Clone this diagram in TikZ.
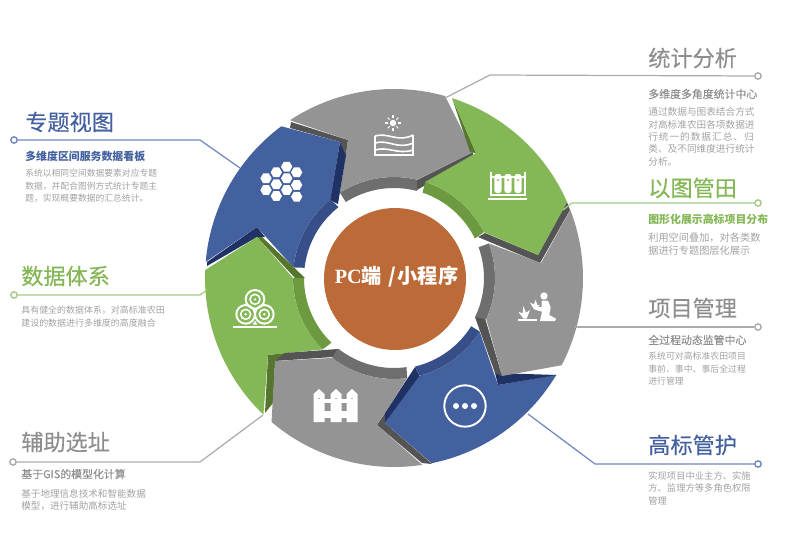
\documentclass[tikz,border=0pt]{standalone}
\usepackage{fontspec}
\setmainfont{Noto Sans CJK SC}
\newfontfamily\pcfont{Liberation Serif}
\usetikzlibrary{positioning}

\definecolor{blueface}{HTML}{43609F}
\definecolor{blueband}{HTML}{374F88}
\definecolor{blueedge}{HTML}{1F3263}
\definecolor{greenface}{HTML}{84B755}
\definecolor{greenband}{HTML}{6D9A40}
\definecolor{greenedge}{HTML}{56752F}
\definecolor{grayface}{HTML}{949494}
\definecolor{grayband}{HTML}{6E6E6E}
\definecolor{grayedge}{HTML}{545454}
\definecolor{hubcolor}{HTML}{BB6A38}
\definecolor{titlegray}{HTML}{8E8E8E}
\definecolor{bodygray}{HTML}{A2A2A2}
\definecolor{lineblue}{HTML}{6F87BC}
\definecolor{linegreen}{HTML}{A5CB84}
\definecolor{linegray}{HTML}{ABABAB}

\tikzset{
  dotend/.style={circle, draw=#1, fill=white, line width=0.8pt, inner sep=0pt, minimum size=3.6pt},
  leader/.style={draw=#1, line width=0.7pt},
  titlelabel/.style={anchor=west, inner sep=0pt, text=#1, font=\fontsize{12.6}{14}\selectfont\addfontfeature{FakeBold=0.35}},
  sublabel/.style={anchor=west, inner sep=0pt, text=#1, font=\fontsize{6.2}{8}\selectfont\bfseries},
  graysub/.style={anchor=west, inner sep=0pt, text=titlegray, font=\fontsize{6.2}{8}\selectfont\addfontfeature{FakeBold=0.3}},
  bodylabel/.style={anchor=north west, inner sep=0pt, align=left, text=bodygray, font=\fontsize{#1}{7.1}\selectfont},
  iconline/.style={draw=white, line width=0.9pt}
}

\begin{document}
\begin{tikzpicture}[x=0.02cm, y=-0.02cm]
  \useasboundingbox (0, 0) rectangle (785, 541);

  % wheel, angles run clockwise from east
  \begin{scope}[shift={(394, 278)}]
    % gray, top
    \fill [grayedge] (-103, -156) -- (-46, -138) -- (-48, -123) -- (-54, -136) -- (-104, -150) -- cycle;
    \fill [grayedge] (79, -126) -- (79, -121) -- (23, -88) -- (23, -98) -- cycle;
    \fill [grayband] (237.6:101) arc (237.6:283.2:101) -- (284.7:90) arc (284.7:237.6:90) -- cycle;
    \fill [grayface] (236.6:189) arc (236.6:285.7:189) -- (79, -126) -- (283.2:101) arc (283.2:237.6:101) -- (-46, -138) -- cycle;

    % blue, upper left
    \fill [blueedge] (-54, -136) -- (-48, -123) -- (-56, -74) -- (-64, -78) -- cycle;
    \fill [blueedge] (-187, -16) -- (-137, -51) -- (-129, -41) -- (-137, -41) -- (-187, -12) -- cycle;
    \fill [blueband] (231:101) arc (231:186:101) -- (186.5:90) arc (186.5:232:90) -- cycle;
    \fill [blueface] (184.9:189) arc (184.9:233.4:189) -- (-54, -136) -- (231:101) arc (231:186:101) -- (-137, -51) -- cycle;

    % green, left
    \fill [greenedge] (-137, -41) -- (-132, -41) -- (-89, 0) -- (-99, 0) -- cycle;
    \fill [greenedge] (-126, 77) -- (-109, 75) -- (-119, 85) -- (-121, 125) -- (-129, 135) -- cycle;
    \fill [greenband] (135:101) arc (135:180:101) -- (180:90) arc (180:134:90) -- cycle;
    \fill [greenface] (182.4:189) arc (182.4:133.7:189) -- (-126, 77) -- (135:101) arc (135:180:101) -- (-137, -41) -- cycle;

    % gray, bottom
    \fill [grayedge] (-119, 83) -- (-109, 75) -- (-56, 71) -- (-61, 79) -- cycle;
    \fill [grayedge] (-9, 135) -- (-17, 147) -- (28, 185) -- (38, 186) -- (-9, 145) -- cycle;
    \fill [grayband] (127.7:101) arc (127.7:82.5:101) -- (82:90) arc (82:128.3:90) -- cycle;
    \fill [grayface] (81.4:189) arc (81.4:130.4:189) -- (-119, 83) -- (127.7:101) arc (127.7:82.5:101) -- (-17, 147) -- cycle;

    % blue, bottom
    \fill [blueedge] (21, 89) -- (-9, 135) -- (-9, 145) -- (26, 99) -- cycle;
    \fill [blueband] (75.3:101) arc (75.3:32:101) -- (32:91) arc (32:76.7:91) -- cycle;
    \fill [blueface] (30.8:189) arc (30.8:78.5:189) -- (-9, 145) -- (75.3:101) arc (75.3:32:101) -- (104, 107) -- cycle;
    \fill [blueedge] (101, 95) -- (163, 97) -- (104, 107) -- cycle;

    % gray, right
    \fill [grayedge] (81, 39) -- (101, 95) -- (108, 98) -- (91, 40) -- cycle;
    \fill [grayedge] (84, -41) -- (146, -15) -- (176, -68) -- (173, -76) -- (144, -23) -- (91, -45) -- cycle;
    \fill [grayband] (-20:101) arc (-20:24:101) -- (26:90) arc (26:-20:90) -- cycle;
    \fill [grayface] (-21.1:189) arc (-21.1:27.5:189) -- (108, 98) -- (24:101) arc (24:-20:101) -- (147, -15) -- cycle;

    % green, upper right
    \fill [greenedge] (58, -180) -- (76, -126) -- (82, -125) -- cycle;
    \fill [greenband] (-72:101) arc (-72:-27:101) -- (-26:90) arc (-26:-71.5:90) -- cycle;
    \fill [greenface] (-72.1:189) arc (-72.1:-23.7:189) -- (144, -23) -- (-27:101) arc (-27:-72:101) -- (82, -125) -- cycle;
  \end{scope}

  % hub
  \node [circle, fill=hubcolor, minimum size=142*0.02cm, inner sep=0pt] (hub) at (395, 279) {};
  \node [text=white, inner sep=0pt, font=\fontsize{11.5}{13}\selectfont\bfseries] (hubtext) at (396.5, 277) {{\pcfont PC}端\hspace{3.5pt}/\hspace{1pt}小程序};

  % sun and field
  \fill [white] (393, 123) circle (3.2);
  \foreach \a in {0, 45, ..., 315}
    \draw [iconline, line width=0.6pt] (393, 123) ++(\a:4.6) -- ++(\a:3);
  \draw [iconline] (375, 136) -- (375, 155) -- (413, 155) -- (413, 135);
  \draw [iconline] (375, 136) .. controls (388, 132) and (398, 143) .. (413, 135);
  \draw [iconline] (375, 143) .. controls (388, 139) and (398, 150) .. (413, 143);
  \draw [iconline] (375, 150) .. controls (388, 146) and (398, 155) .. (413, 150);

  % hexagons
  \foreach \hx/\hy in {260/260, 229/277, 290/277, 198/295, 260/295, 229/313, 290/315, 198/330, 260/330, 229/348, 290/350}
    \fill [white, shift={(200, 80)}, scale=1/3] (\hx, \hy) +(0:17) -- +(60:17) -- +(120:17) -- +(180:17) -- +(240:17) -- +(300:17) -- cycle;

  % test tubes
  \draw [iconline] (491, 172) -- (491, 195);
  \draw [iconline] (525, 172) -- (525, 195);
  \draw [iconline] (490, 195) -- (526, 195);
  \draw [iconline] (490, 177) -- (526, 177);
  \draw [white, line width=1.2pt] (488, 199) -- (527, 199);
  \foreach \tx in {498, 508, 518} {
    \fill [white, rounded corners=1.5pt] (\tx-3.6, 174) rectangle (\tx+3.6, 193);
    \fill [greenface] (\tx, 180) circle (1.2);
  }

  % gardener and plants
  \begin{scope}[shift={(390, 270)}, scale=1/3]
    \fill [white] (462, 78) circle (11);
    \fill [white] (455, 92) -- (474, 92) -- (482, 112) -- (478, 135) -- (498, 146) -- (495, 153) -- (450, 153) -- (456, 125) -- (432, 118) -- (435, 108) -- (455, 112) -- cycle;
    \fill [white] (385, 146) -- (440, 146) -- (440, 153) -- (385, 153) -- cycle;
    \fill [white] (400, 146) -- (385, 125) -- (398, 130) -- (400, 108) -- (408, 128) -- (420, 120) -- (410, 146) -- cycle;
    \fill [white] (432, 118) -- (420, 98) -- (432, 103) -- (437, 90) -- (442, 105) -- (450, 105) -- cycle;
  \end{scope}

  % dots in a ring
  \draw [white, line width=1.1pt] (465, 406) circle (20.7);
  \foreach \dx in {456, 465, 474}
    \fill [white] (\dx, 406) circle (3);

  % fence
  \foreach \fx in {319, 336, 352} {
    \fill [white] (\fx-5.5, 394) -- (\fx, 389) -- (\fx+5.5, 394) -- (\fx+5.5, 422) -- (\fx-5.5, 422) -- cycle;
    \fill [grayface] (\fx, 399) circle (1.2);
    \fill [grayface] (\fx, 412) circle (1.2);
  }
  \fill [white] (314, 399) rectangle (357, 403);
  \fill [white] (314, 411) rectangle (357, 418);

  % rolls
  \begin{scope}[shift={(200, 270)}, scale=1/3]
    \foreach \rx/\ry in {165/88, 137/133, 193/133} {
      \draw [white, line width=1.1pt] (\rx, \ry) circle (28);
      \draw [white, line width=0.9pt] (\rx, \ry) circle (15);
      \fill [white] (\rx, \ry) circle (4);
    }
    \fill [white] (158, 164) -- (165, 152) -- (172, 164) -- cycle;
    \draw [white, line width=1.1pt] (100, 170) -- (232, 170);
  \end{scope}

  % right side
  \node [dotend=linegray] (statdot) at (758, 76) {};
  \coordinate (statend) at (445, 98);
  \draw [leader=linegray] (statdot) -- (490, 75) -- (statend);
  \node [titlelabel=titlegray] (stattitle) at (648, 58) {统计分析};
  \node [graysub] (statsub) at (648, 94) {多维度多角度统计中心};
  \node [bodylabel=5.5] (statbody) at (648, 107) {通过数据与图表结合方式\\对高标准农田各项数据进\\{\addfontfeature{LetterSpace=10}行统一的数据汇总、归}\\类、及不同维度进行统计\\分析。};

  \node [dotend=linegreen] (mapdot) at (758, 203) {};
  \coordinate (mapend) at (563, 210);
  \draw [leader=linegreen] (mapdot) -- (572, 203) -- (mapend);
  \node [titlelabel=greenface] (maptitle) at (648, 188) {以图管田};
  \node [sublabel=greenface] (mapsub) at (648, 219) {图形化展示高标项目分布};
  \node [bodylabel=5.8] (mapbody) at (648, 233) {利用空间叠加，对各类数\\据进行专题图层化展示};

  \node [dotend=linegray] (projdot) at (758, 327) {};
  \coordinate (projend) at (575, 327);
  \draw [leader=linegray] (projdot) -- (projend);
  \node [titlelabel=titlegray] (projtitle) at (648, 308) {项目管理};
  \node [graysub] (projsub) at (648, 340) {全过程动态监管中心};
  \node [bodylabel=5.05] (projbody) at (648, 352) {系统可对高标准农田项目\\事前、事中、事后全过程\\进行管理};

  \node [dotend=lineblue] (mgmtdot) at (758, 464) {};
  \coordinate (mgmtend) at (528, 414);
  \draw [leader=lineblue] (mgmtdot) -- (595, 464) -- (mgmtend);
  \node [titlelabel=blueface] (mgmttitle) at (648, 445) {高标管护};
  \node [bodylabel=5.3] (mgmtbody) at (648, 471) {实现项目中业主方、实施\\方、监理方等多角色权限\\管理};

  % left side
  \node [dotend=lineblue] (topicdot) at (14, 140) {};
  \coordinate (topicend) at (240, 168);
  \draw [leader=lineblue] (topicdot) -- (200, 140) -- (topicend);
  \node [titlelabel=blueface] (topictitle) at (25, 122) {专题视图};
  \node [sublabel=blueface] (topicsub) at (25, 156) {多维度区间服务数据看板};
  \node [bodylabel=5] (topicbody) at (25, 169) {系统以相同空间数据要素对应专题\\数据，并配合图例方式统计专题主\\题，实现概要数据的汇总统计。};

  \node [dotend=linegreen] (datadot) at (14, 295) {};
  \coordinate (dataend) at (207, 290);
  \draw [leader=linegreen] (datadot) -- (200, 295) -- (dataend);
  \node [titlelabel=greenface] (datatitle) at (21, 276) {数据体系};
  \node [bodylabel=5.1] (databody) at (21, 306) {具有健全的数据体系，对高标准农田\\建设的数据进行多维度的高度融合};

  \node [dotend=linegray] (sitedot) at (13, 462) {};
  \coordinate (siteend) at (263, 415);
  \draw [leader=linegray] (sitedot) -- (200, 462) -- (siteend);
  \node [titlelabel=titlegray] (sitetitle) at (21, 442) {辅助选址};
  \node [graysub] (sitesub) at (21, 474) {基于GIS的模型化计算};
  \node [bodylabel=5.45] (sitebody) at (21, 489) {基于地理信息技术和智能数据\\模型，进行辅助高标选址};
\end{tikzpicture}
\end{document}
